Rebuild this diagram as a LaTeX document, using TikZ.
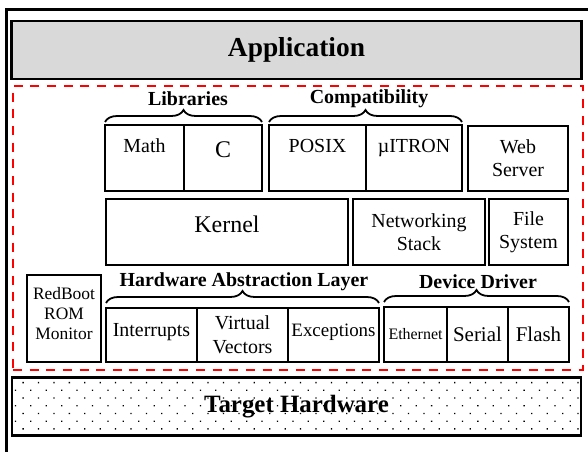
\documentclass[tikz,border=0pt]{standalone}
\usepackage{fontspec}
\setmainfont{Liberation Serif}
\usetikzlibrary{positioning,patterns.meta,decorations.pathreplacing}

\tikzset{
  box/.style={draw, line width=2.5pt, inner sep=0pt, outer sep=0pt, align=center,
    font=\fontsize{20}{23}\selectfont},
  cell/.style 2 args={box, minimum width=#1, minimum height=#2},
  grp/.style={font=\bfseries\fontsize{20}{23}\selectfont, inner sep=0pt},
  grpbrace/.style={decorate, decoration={brace, amplitude=12bp}, line width=1.8pt},
}

\begin{document}
\begin{tikzpicture}[x=1bp, y=-1bp]
  \useasboundingbox (0,0) rectangle (588,452);

  %% outer frame
  \draw[line width=3.5pt] (6.5,452) -- (6.5,9.5) -- (588,9.5);

  %% application and hardware
  \node[cell={570bp}{58bp}, fill=black!15, font=\bfseries\fontsize{27.5}{31}\selectfont] (app) at (296.5,50) {Application};
  \node[draw=red, line width=2.4pt, dash pattern=on 9pt off 7.7pt, minimum width=570bp, minimum height=284bp] (core) at (298,228) {};
  \node[cell={569bp}{58bp}, pattern={Dots[distance=10.9bp, angle=45, radius=0.9pt]},
        font=\bfseries\fontsize{25}{29}\selectfont] (hw) at (296.5,406.5) {Target Hardware};

  %% libraries / compatibility
  \node[cell={79bp}{66bp}, text depth=24bp] (math) at (144.5,158) {Math};
  \node[cell={78bp}{66bp}, font=\fontsize{24}{28}\selectfont, text depth=16bp, right=0pt of math] (clib) {C};
  \node[cell={97bp}{66bp}, text depth=24bp] (posix) at (317.5,158) {POSIX};
  \node[cell={96bp}{66bp}, text depth=24bp, right=0pt of posix] (uitron) {µITRON};
  \node[cell={100bp}{65bp}] (web) at (518,158.5) {Web\\Server};

  \node[grp] (libs) at (188,99) {Libraries};
  \node[grp] (compat) at (369,99) {Compatibility};
  \draw[grpbrace] ([yshift=3bp]math.north west) -- ([yshift=3bp]clib.north east);
  \draw[grpbrace] ([yshift=3bp]posix.north west) -- ([yshift=3bp]uitron.north east);

  %% kernel row
  \node[cell={242bp}{66bp}, font=\fontsize{24}{28}\selectfont, text depth=16bp] (kernel) at (227,232) {Kernel};
  \node[cell={132bp}{66bp}] (netstack) at (419,232) {Networking\\Stack};
  \node[cell={79bp}{66bp}] (fsys) at (528.5,232) {File\\System};

  %% bottom row
  \node[cell={74bp}{87bp}] (redboot) at (64,318.5) {};
  \node[align=center, inner sep=0pt, font=\fontsize{17.5}{20.5}\selectfont] (redboot-t) at ([yshift=5bp]redboot.center) {RedBoot\\ROM\\Monitor};

  \node[cell={91bp}{54bp}, text depth=10bp] (intr) at (151.5,335) {Interrupts};
  \node[cell={91bp}{54bp}, font=\fontsize{20}{24}\selectfont, right=0pt of intr] (vvec) {Virtual\\Vectors};
  \node[cell={91bp}{54bp}, font=\fontsize{19}{22}\selectfont, text depth=10bp, right=0pt of vvec] (excp) {Exceptions};

  \node[cell={63bp}{55bp}, font=\fontsize{16}{19}\selectfont] (eth) at (415.5,334.5) {Ethernet};
  \node[cell={61bp}{55bp}, font=\fontsize{21}{24}\selectfont, right=0pt of eth] (serial) {Serial};
  \node[cell={61bp}{55bp}, font=\fontsize{21}{24}\selectfont, right=0pt of serial] (flash) {Flash};

  \node[grp] (hal) at (244,282) {Hardware Abstraction Layer};
  \node[grp] (ddrv) at (478,282) {Device Driver};
  \draw[grpbrace] ([yshift=5bp]intr.north west) -- ([yshift=5bp]excp.north east);
  \draw[grpbrace] ([yshift=5bp]eth.north west) -- ([yshift=5bp]flash.north east);
\end{tikzpicture}
\end{document}
